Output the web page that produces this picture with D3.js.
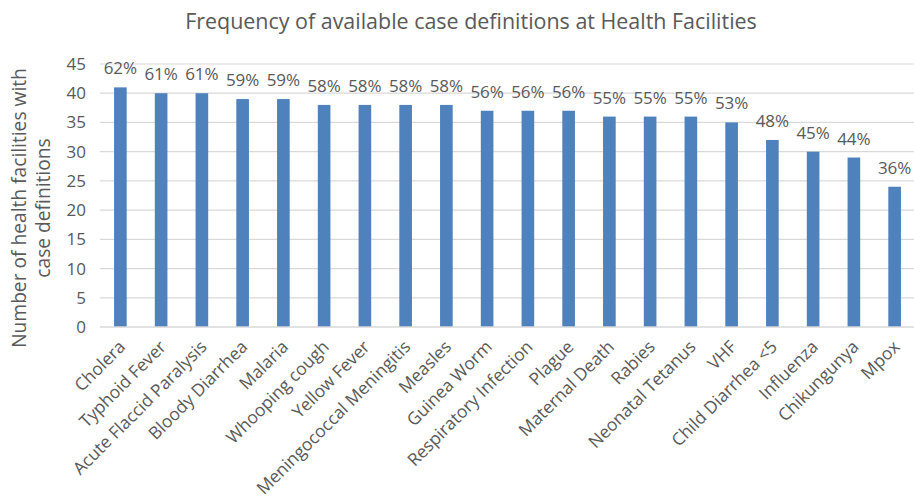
<!DOCTYPE html>
<html>
<head>
<meta charset="utf-8">
<script src="https://cdn.jsdelivr.net/npm/d3@7"></script>
<style>
  body { margin: 0; background: #fff; }
  text { font-family: "Open Sans", sans-serif; fill: #595959; }
</style>
</head>
<body>
<div id="screen"></div>
<script>
var width = 914;
var height = 498;

// data
var diseases = ["Cholera", "Typhoid Fever", "Acute Flaccid Paralysis", "Bloody Diarrhea", "Malaria",
  "Whooping cough", "Yellow Fever", "Meningococcal Meningitis", "Measles", "Guinea Worm",
  "Respiratory Infection", "Plague", "Maternal Death", "Rabies", "Neonatal Tetanus", "VHF",
  "Child Diarrhea <5", "Influenza", "Chikungunya", "Mpox"];
var facilities = [41, 40, 40, 39, 39, 38, 38, 38, 38, 37, 37, 37, 36, 36, 36, 35, 32, 30, 29, 24];
var percentLabels = ["62%", "61%", "61%", "59%", "59%", "58%", "58%", "58%", "58%", "56%",
  "56%", "56%", "55%", "55%", "55%", "53%", "48%", "45%", "44%", "36%"];
var yTicks = [0, 5, 10, 15, 20, 25, 30, 35, 40, 45];
var chartTitle = "Frequency of available case definitions at Health Facilities";
var yTitle = ["Number of health facilities with", "case definitions"];

var plot = { left: 100, right: 915, top: 64, bottom: 327 };

var svg = d3.select("#screen").append("svg")
  .attr("width", width).attr("height", height);

var x = d3.scaleBand().domain(diseases).range([plot.left, plot.right]).paddingInner(0.69).paddingOuter(0.345);
var y = d3.scaleLinear().domain([0, 45]).range([plot.bottom, plot.top]);

// fit a text element to a target width
var fitText = function(sel, target) {
  var w = sel.node().getComputedTextLength();
  var fs = parseFloat(sel.attr("font-size"));
  sel.attr("font-size", fs * target / w);
};

// gridlines
svg.append("g").selectAll("line").data(yTicks.slice(1)).enter().append("line")
  .attr("x1", plot.left).attr("x2", plot.right)
  .attr("y1", function(d){ return y(d); }).attr("y2", function(d){ return y(d); })
  .attr("stroke", "#d9d9d9").attr("stroke-width", 1.2);

// y axis labels
var yAxis = d3.axisLeft(y).tickValues(yTicks).tickSize(0).tickPadding(14);
var yAxisG = svg.append("g").attr("transform", "translate(" + plot.left + ",0)").call(yAxis);
yAxisG.select(".domain").remove();
yAxisG.selectAll("text").attr("font-size", 17).attr("font-family", "Open Sans").attr("fill", "#595959");

// bars
svg.append("g").selectAll("rect").data(facilities).enter().append("rect")
  .attr("x", function(d, i){ return x(diseases[i]); })
  .attr("width", x.bandwidth())
  .attr("y", function(d){ return y(d); })
  .attr("height", function(d){ return y(0) - y(d); })
  .attr("fill", "#4f81bd");

// baseline
svg.append("line")
  .attr("x1", plot.left).attr("x2", plot.right)
  .attr("y1", y(0)).attr("y2", y(0))
  .attr("stroke", "#d9d9d9").attr("stroke-width", 1.5);

// value labels
svg.append("g").selectAll("text").data(facilities).enter().append("text")
  .attr("x", function(d, i){ return x(diseases[i]) + x.bandwidth() / 2; })
  .attr("y", function(d){ return y(d) - 13; })
  .attr("text-anchor", "middle")
  .attr("font-size", 17)
  .text(function(d, i){ return percentLabels[i]; });

// category labels
var xLabels = svg.append("g").selectAll("text").data(diseases).enter().append("text")
  .attr("text-anchor", "end")
  .attr("font-size", 15)
  .attr("transform", function(d){
    var cx = x(d) + x.bandwidth() / 2;
    return "translate(" + (cx + 6) + "," + (plot.bottom + 21) + ") rotate(-45)";
  })
  .text(function(d){ return d; });
var mening = xLabels.filter(function(d){ return d === "Meningococcal Meningitis"; });
var w = mening.node().getComputedTextLength();
xLabels.attr("font-size", 15 * 209 / w);

// title
var title = svg.append("text")
  .attr("x", 471).attr("y", 29)
  .attr("text-anchor", "middle")
  .attr("font-size", 20)
  .text(chartTitle);
fitText(title, 572);

// y axis title
var yt1 = svg.append("text")
  .attr("transform", "translate(26,208) rotate(-90)")
  .attr("text-anchor", "middle")
  .attr("font-size", 17)
  .text(yTitle[0]);
fitText(yt1, 280);
svg.append("text")
  .attr("transform", "translate(50,208) rotate(-90)")
  .attr("text-anchor", "middle")
  .attr("font-size", yt1.attr("font-size"))
  .text(yTitle[1]);
</script>
</body>
</html>
